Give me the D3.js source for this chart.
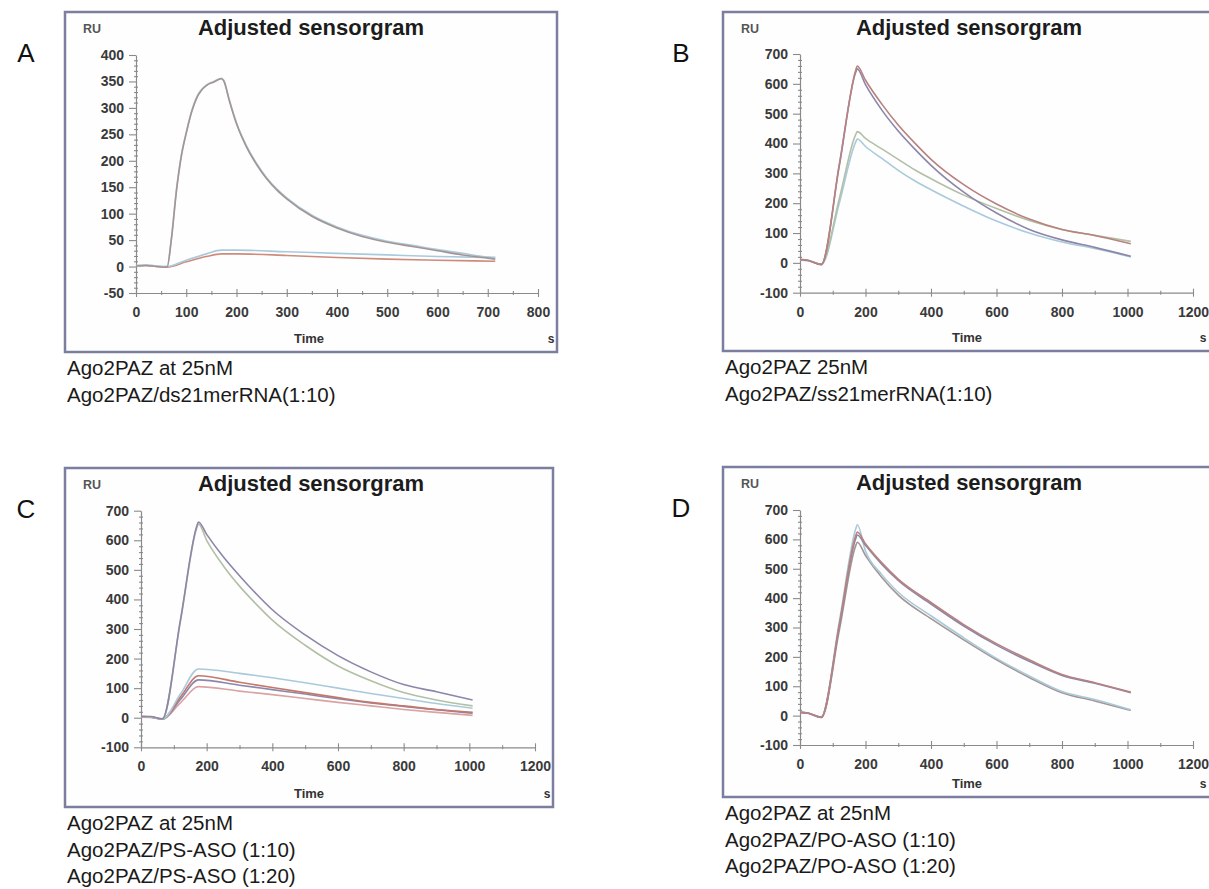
<!DOCTYPE html>
<html>
<head>
<meta charset="utf-8">
<script src="https://cdn.jsdelivr.net/npm/d3@7"></script>
<style>
body { margin: 0; background: #fff; }
svg { display: block; font-family: "Liberation Sans", Arial, sans-serif; }
</style>
</head>
<body>
<svg id="fig" width="1209" height="889"></svg>
<script>
// ---- data: [time (s), response (RU)] ----

// A: Ago2PAZ / ds21merRNA
var aTicksX = [0, 100, 200, 300, 400, 500, 600, 700, 800];
var aTicksY = [-50, 0, 50, 100, 150, 200, 250, 300, 350, 400];
var aHighBlue = [[0,2],[20,3],[40,1],[62,0],[70,50],[81,150],[90,210],[101,258],[111,295],[121,321],[130,334],[140,343],[155,350],[170,356],[175,352],[185,318],[200,272],[220,228],[240,195],[260,168],[280,147],[300,130],[350,97],[400,75],[450,59],[500,48],[550,40],[600,32],[650,25],[700,18],[715,17]];
var aHighRed = [[0,1],[20,2],[40,0],[62,-1],[70,48],[81,147],[90,207],[101,256],[111,293],[121,319],[130,333],[140,342],[155,349],[170,355],[175,350],[185,316],[200,270],[220,226],[240,193],[260,166],[280,145],[300,128],[350,95],[400,73],[450,57],[500,46],[550,38],[600,30],[650,22],[700,16],[715,14]];
var aLowBlue = [[0,2],[20,3],[40,1],[62,0],[100,12],[140,24],[170,31],[200,31],[300,28],[400,25],[500,22],[600,19],[715,17]];
var aLowRed = [[0,1],[20,2],[40,0],[62,-1],[100,9],[140,19],[170,24],[200,24],[300,21],[400,17],[500,14],[600,12],[715,10]];

// B: Ago2PAZ / ss21merRNA
var bTicksX = [0, 200, 400, 600, 800, 1000, 1200];
var bTicksY = [-100, 0, 100, 200, 300, 400, 500, 600, 700];
var bRed = [[0,12],[25,9],[65,-5],[120,330],[170,645],[175,660],[200,612],[250,532],[300,462],[350,402],[400,347],[500,262],[600,197],[700,147],[800,112],[900,92],[1010,64]];
var bPurple = [[0,11],[25,8],[65,-6],[120,325],[170,638],[175,650],[200,597],[250,512],[300,442],[350,382],[400,327],[500,237],[600,167],[700,112],[800,77],[900,52],[1010,22]];
var bGreen = [[0,11],[25,8],[65,-5],[120,215],[170,430],[175,440],[200,417],[250,382],[300,347],[350,312],[400,282],[500,227],[600,182],[700,142],[800,112],[900,92],[1010,72]];
var bBlue = [[0,10],[25,7],[65,-6],[120,200],[170,405],[175,415],[200,390],[250,350],[300,310],[350,275],[400,245],[500,190],[600,140],[700,100],[800,70],[900,48],[1010,20]];

// C: Ago2PAZ / PS-ASO
var cTicksX = [0, 200, 400, 600, 800, 1000, 1200];
var cTicksY = [-100, 0, 100, 200, 300, 400, 500, 600, 700];
var cTopPurple = [[0,5],[30,4],[65,-4],[120,330],[170,648],[175,662],[200,620],[250,545],[300,480],[350,420],[400,365],[500,280],[600,210],[700,155],[800,112],[900,88],[1010,60]];
var cTopGreen = [[0,4],[30,3],[65,-5],[120,325],[170,642],[175,655],[200,600],[250,515],[300,445],[350,385],[400,330],[500,245],[600,175],[700,125],[800,85],[900,60],[1010,40]];
var cLowBlue = [[0,4],[30,3],[65,-4],[120,80],[175,165],[300,150],[400,135],[500,118],[600,100],[700,82],[800,65],[900,48],[1010,32]];
var cLowRed = [[0,3],[30,2],[65,-4],[120,70],[175,142],[300,120],[400,102],[500,85],[600,68],[700,52],[800,40],[900,28],[1010,18]];
var cLowPurple = [[0,3],[30,2],[65,-5],[120,62],[175,128],[300,110],[400,95],[500,80],[600,64],[700,50],[800,38],[900,27],[1010,15]];
var cLowPink = [[0,2],[30,1],[65,-5],[120,50],[175,105],[300,90],[400,78],[500,65],[600,52],[700,40],[800,28],[900,18],[1010,8]];

// D: Ago2PAZ / PO-ASO
var dTicksX = [0, 200, 400, 600, 800, 1000, 1200];
var dTicksY = [-100, 0, 100, 200, 300, 400, 500, 600, 700];
var dRed = [[0,12],[25,9],[65,-5],[120,310],[170,612],[175,625],[200,585],[250,520],[300,465],[400,385],[500,310],[600,245],[700,190],[800,140],[900,112],[1010,80]];
var dGrey = [[0,11],[25,8],[65,-6],[120,305],[170,602],[175,615],[200,580],[250,515],[300,460],[400,380],[500,305],[600,240],[700,185],[800,137],[900,110],[1010,78]];
var dBlue = [[0,12],[25,9],[65,-5],[120,320],[170,635],[175,650],[200,560],[250,480],[300,420],[400,340],[500,265],[600,195],[700,135],[800,82],[900,55],[1010,20]];
var dLow = [[0,11],[25,8],[65,-6],[120,290],[170,578],[175,590],[200,545],[250,470],[300,410],[400,330],[500,258],[600,190],[700,130],[800,78],[900,50],[1010,18]];

var captionA = ['Ago2PAZ at 25nM', 'Ago2PAZ/ds21merRNA(1:10)'];
var captionB = ['Ago2PAZ 25nM', 'Ago2PAZ/ss21merRNA(1:10)'];
var captionC = ['Ago2PAZ at 25nM', 'Ago2PAZ/PS-ASO (1:10)', 'Ago2PAZ/PS-ASO (1:20)'];
var captionD = ['Ago2PAZ at 25nM', 'Ago2PAZ/PO-ASO (1:10)', 'Ago2PAZ/PO-ASO (1:20)'];

var colRed = '#b8827e';
var colPurple = '#8c86a8';
var colBlue = '#a9cadb';
var colGreen = '#b2c0a6';
var colPink = '#d9a3a3';
var colGrey = '#a49494';

var panels = [
	{
		letter: 'A', lx: 26, ly: 62,
		frame: { x: 65, y: 12, w: 492, h: 340 },
		xr: [136, 538], yr: [293, 55], xd: [0, 800], yd: [-50, 400],
		ticksX: aTicksX, ticksY: aTicksY, minorX: 50, minorY: 10,
		series: [
			{ d: aLowRed, c: '#d08a7c' },
			{ d: aLowBlue, c: colBlue },
			{ d: aHighBlue, c: colBlue },
			{ d: aHighRed, c: colGrey }
		],
		caption: captionA
	},
	{
		letter: 'B', lx: 681, ly: 62,
		frame: { x: 723, y: 12, w: 492, h: 339 },
		xr: [800, 1193], yr: [292.7, 54], xd: [0, 1200], yd: [-100, 700],
		ticksX: bTicksX, ticksY: bTicksY, minorX: 100, minorY: 20,
		series: [
			{ d: bBlue, c: colBlue },
			{ d: bGreen, c: colGreen },
			{ d: bPurple, c: colPurple },
			{ d: bRed, c: colRed }
		],
		caption: captionB
	},
	{
		letter: 'C', lx: 26, ly: 518,
		frame: { x: 65, y: 468, w: 488, h: 339 },
		xr: [141, 535], yr: [747.3, 510.7], xd: [0, 1200], yd: [-100, 700],
		ticksX: cTicksX, ticksY: cTicksY, minorX: 100, minorY: 20,
		series: [
			{ d: cLowPink, c: colPink },
			{ d: cLowPurple, c: colPurple },
			{ d: cLowRed, c: '#c4786c' },
			{ d: cLowBlue, c: colBlue },
			{ d: cTopGreen, c: colGreen },
			{ d: cTopPurple, c: colPurple }
		],
		caption: captionC
	},
	{
		letter: 'D', lx: 681, ly: 517,
		frame: { x: 723, y: 467, w: 492, h: 330 },
		xr: [800, 1193], yr: [745, 510], xd: [0, 1200], yd: [-100, 700],
		ticksX: dTicksX, ticksY: dTicksY, minorX: 100, minorY: 20,
		series: [
			{ d: dLow, c: colGrey },
			{ d: dBlue, c: colBlue },
			{ d: dGrey, c: colPurple },
			{ d: dRed, c: colRed }
		],
		caption: captionD
	}
];

var svg = d3.select('#fig');

panels.forEach(function(p) {
	var f = p.frame;
	var g = svg.append('g');

	// panel letter
	g.append('text')
		.attr('x', p.lx).attr('y', p.ly)
		.attr('text-anchor', 'middle')
		.style('font-size', '26px')
		.attr('fill', '#111')
		.text(p.letter);

	// frame
	g.append('rect')
		.attr('x', f.x).attr('y', f.y).attr('width', f.w).attr('height', f.h)
		.attr('fill', '#fefeff')
		.attr('stroke', '#7c7ea0')
		.attr('stroke-width', 2.5);

	var x = d3.scaleLinear().domain(p.xd).range(p.xr);
	var y = d3.scaleLinear().domain(p.yd).range(p.yr);
	var right = Math.min(f.x + f.w, 1209);

	// title, RU, Time, s
	g.append('text')
		.attr('x', f.x + 246).attr('y', f.y + 23)
		.attr('text-anchor', 'middle')
		.style('font-size', '22px').style('font-weight', 'bold')
		.attr('fill', '#1c1c1c')
		.text('Adjusted sensorgram');
	g.append('text')
		.attr('x', f.x + 18).attr('y', f.y + 21)
		.style('font-size', '12.5px').style('font-weight', 'bold')
		.attr('fill', '#555')
		.text('RU');
	g.append('text')
		.attr('x', f.x + 244).attr('y', f.y + f.h - 9)
		.attr('text-anchor', 'middle')
		.style('font-size', '13px').style('font-weight', 'bold')
		.attr('fill', '#333')
		.text('Time');
	g.append('text')
		.attr('x', right - 6).attr('y', f.y + f.h - 9)
		.attr('text-anchor', 'middle')
		.style('font-size', '12px').style('font-weight', 'bold')
		.attr('fill', '#333')
		.text('s');

	// minor ticks
	var minX = d3.range(p.xd[0], p.xd[1] + 1, p.minorX).filter((v) => p.ticksX.indexOf(v) < 0);
	var minY = d3.range(p.yd[0], p.yd[1] + 1, p.minorY).filter((v) => p.ticksY.indexOf(v) < 0);

	var axisX = g.append('g')
		.attr('transform', `translate(0,${y(p.yd[0])})`)
		.call(d3.axisBottom(x).tickValues(p.ticksX).tickFormat((v) => String(v)).tickSize(4).tickSizeOuter(0).tickPadding(10));
	axisX.selectAll('.tick line').attr('y1', -4);
	g.append('g')
		.attr('transform', `translate(0,${y(p.yd[0])})`)
		.call(d3.axisBottom(x).tickValues(minX).tickSize(2).tickFormat(''))
		.call((a) => a.select('.domain').remove())
		.selectAll('.tick line').attr('y1', -2);

	var axisY = g.append('g')
		.attr('transform', `translate(${x(p.xd[0])},0)`)
		.call(d3.axisLeft(y).tickValues(p.ticksY).tickFormat((v) => String(v)).tickSize(7).tickSizeOuter(0).tickPadding(5));
	g.append('g')
		.attr('transform', `translate(${x(p.xd[0])},0)`)
		.call(d3.axisLeft(y).tickValues(minY).tickSize(2).tickFormat(''))
		.call((a) => a.select('.domain').remove())
		.selectAll('.tick line').attr('x1', 2);

	g.selectAll('.domain').attr('stroke', '#8a8a8a').attr('stroke-width', 1.2);
	g.selectAll('.tick line').attr('stroke', '#8a8a8a').attr('stroke-width', 1.1);
	g.selectAll('.tick text')
		.attr('fill', '#3a3a3a')
		.style('font-family', '"Liberation Sans", Arial, sans-serif')
		.style('font-size', '14px')
		.style('font-weight', 'bold');

	// curves
	var line = d3.line()
		.x((d) => x(d[0]))
		.y((d) => y(d[1]))
		.curve(d3.curveMonotoneX);

	g.selectAll('path.curve')
		.data(p.series)
		.enter()
		.append('path')
		.attr('class', 'curve')
		.attr('d', (s) => line(s.d))
		.attr('fill', 'none')
		.attr('stroke', (s) => s.c)
		.attr('stroke-width', 1.6);

	// caption lines below the frame
	g.selectAll('text.cap')
		.data(p.caption)
		.enter()
		.append('text')
		.attr('class', 'cap')
		.attr('x', f.x + 2)
		.attr('y', (d, i) => f.y + f.h + 23 + i * 26.5)
		.style('font-size', '20.5px')
		.attr('fill', '#1a1a1a')
		.text((d) => d);
});
</script>
</body>
</html>
